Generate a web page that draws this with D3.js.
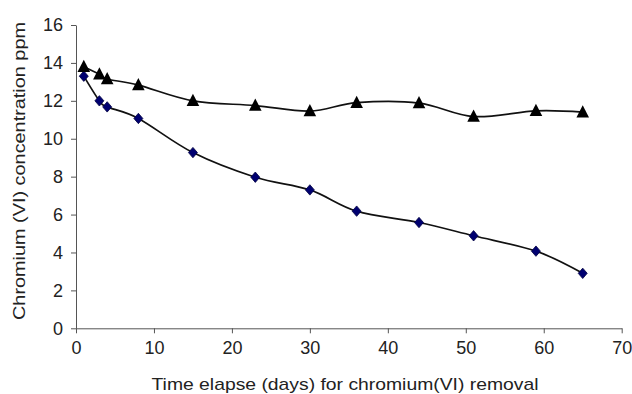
<!DOCTYPE html>
<html>
<head>
<meta charset="utf-8">
<script src="https://cdn.jsdelivr.net/npm/d3@7"></script>
<style>
  body { margin: 0; background: #fff; }
  text { font-family: "Liberation Sans", Arial, sans-serif; fill: #222; }
</style>
</head>
<body>
<div id="chart-container"></div>
<script>
const days = [1, 3, 4, 8, 15, 23, 30, 36, 44, 51, 59, 65];
const triangleSeries = [13.8, 13.4, 13.15, 12.83, 12.0, 11.75, 11.46, 11.9, 11.88, 11.17, 11.47, 11.4];
const diamondSeries = [13.3, 12.0, 11.68, 11.07, 9.27, 7.97, 7.3, 6.18, 5.58, 4.88, 4.07, 2.9];
const xTicks = [0, 10, 20, 30, 40, 50, 60, 70];
const yTicks = [0, 2, 4, 6, 8, 10, 12, 14, 16];

const W = 632, H = 394;
const margin = { top: 25, right: 10, bottom: 66, left: 76 };

const svg = d3.select("#chart-container")
  .append("svg")
  .attr("width", W)
  .attr("height", H);

const x = d3.scaleLinear().domain([0, 70]).range([margin.left, 621.7]);
const y = d3.scaleLinear().domain([0, 16]).range([328.3, margin.top]);

// X axis
const gx = svg.append("g")
  .attr("transform", `translate(0,${y(0)})`)
  .call(d3.axisBottom(x).tickValues(xTicks).tickSize(5).tickSizeOuter(0).tickPadding(8));

// Y axis
const gy = svg.append("g")
  .attr("transform", `translate(${x(0)},0)`)
  .call(d3.axisLeft(y).tickValues(yTicks).tickSize(5).tickSizeOuter(0).tickPadding(8));

[gx, gy].forEach(g => {
  g.select(".domain").attr("stroke", "#555").attr("stroke-width", 1);
  g.selectAll(".tick line").attr("stroke", "#555");
  g.selectAll(".tick text").attr("font-size", 18).attr("fill", "#222")
    .attr("font-family", "Liberation Sans, Arial, sans-serif");
});

// Axis titles
svg.append("text")
  .attr("x", 345).attr("y", 390)
  .attr("text-anchor", "middle")
  .attr("font-size", 17)
  .attr("textLength", 387)
  .attr("lengthAdjust", "spacingAndGlyphs")
  .text("Time elapse (days) for chromium(VI) removal");

svg.append("text")
  .attr("transform", "translate(25,171) rotate(-90)")
  .attr("text-anchor", "middle")
  .attr("font-size", 17)
  .attr("textLength", 298)
  .attr("lengthAdjust", "spacingAndGlyphs")
  .text("Chromium (VI) concentration ppm");

// Smoothed lines
const line = d3.line()
  .x(d => x(d[0]))
  .y(d => y(d[1]))
  .curve(d3.curveCatmullRom.alpha(0));

const triPts = days.map((d, i) => [d, triangleSeries[i]]);
const diaPts = days.map((d, i) => [d, diamondSeries[i]]);

[triPts, diaPts].forEach(pts => {
  svg.append("path")
    .datum(pts)
    .attr("fill", "none")
    .attr("stroke", "#111")
    .attr("stroke-width", 1.7)
    .attr("d", line);
});

// Diamond markers
svg.selectAll(".dia")
  .data(diaPts)
  .join("path")
  .attr("class", "dia")
  .attr("transform", d => `translate(${x(d[0])},${y(d[1])})`)
  .attr("d", "M0,-5.2L4.5,0L0,5.2L-4.5,0Z")
  .attr("fill", "#000070")
  .attr("stroke", "#000040")
  .attr("stroke-width", 0.8);

// Triangle markers
svg.selectAll(".tri")
  .data(triPts)
  .join("path")
  .attr("class", "tri")
  .attr("transform", d => `translate(${x(d[0])},${y(d[1])})`)
  .attr("d", "M0,-7L6.3,5.2L-6.3,5.2Z")
  .attr("fill", "#000");
</script>
</body>
</html>
